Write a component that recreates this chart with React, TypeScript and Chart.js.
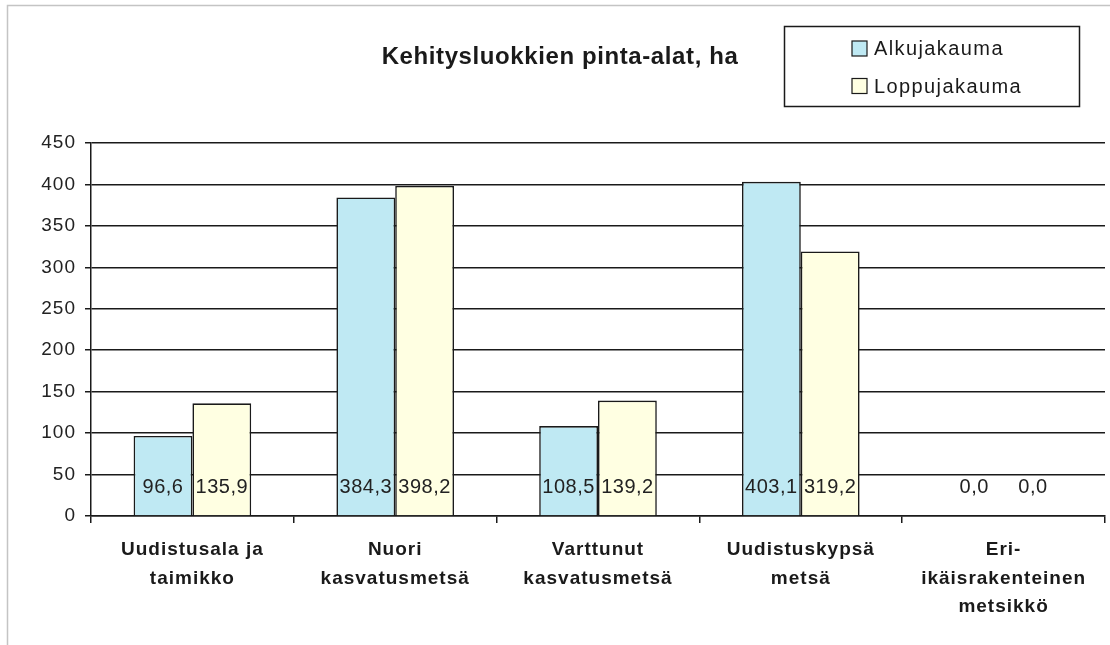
import React, { useEffect, useRef } from 'react';
import { Chart, registerables } from 'chart.js';

Chart.register(...registerables);

const categories: string[][] = [
  ['Uudistusala ja', 'taimikko'],
  ['Nuori', 'kasvatusmetsä'],
  ['Varttunut', 'kasvatusmetsä'],
  ['Uudistuskypsä', 'metsä'],
  ['Eri-', 'ikäisrakenteinen', 'metsikkö'],
];
const seriesNames = ['Alkujakauma', 'Loppujakauma'];
const alkujakauma = [96.6, 384.3, 108.5, 403.1, 0.0];
const loppujakauma = [135.9, 398.2, 139.2, 319.2, 0.0];
const yTicks = [0, 50, 100, 150, 200, 250, 300, 350, 400, 450];
const titleText = 'Kehitysluokkien pinta-alat, ha';

const FONT = '"Liberation Sans", Arial, sans-serif';
const INK = '#1a1a1a';
const BLUE = '#bfe9f3';
const YELLOW = '#ffffe2';

const setSpacing = (ctx: any, v: string) => {
  try { ctx.letterSpacing = v; } catch (e) { /* ignore */ }
};

const decorPlugin = {
  id: 'decor',
  beforeLayout(chart: any) {
    setSpacing(chart.ctx, '1px');
  },
  beforeDraw(chart: any) {
    const ctx = chart.ctx;
    ctx.save();
    ctx.fillStyle = '#fff';
    ctx.fillRect(0, 0, chart.width, chart.height);
    ctx.strokeStyle = '#c4c4c4';
    ctx.lineWidth = 1.5;
    ctx.beginPath();
    ctx.moveTo(7.5, chart.height + 2);
    ctx.lineTo(7.5, 5.5);
    ctx.lineTo(chart.width + 2, 5.5);
    ctx.stroke();
    ctx.restore();
    setSpacing(ctx, '1px');
  },
  afterDatasetsDraw(chart: any) {
    const ctx = chart.ctx;
    const yScale = chart.scales.y;
    const y0 = yScale.getPixelForValue(0);
    ctx.save();
    setSpacing(ctx, '0.5px');
    ctx.font = `20px ${FONT}`;
    ctx.fillStyle = '#222';
    ctx.textAlign = 'center';
    ctx.textBaseline = 'middle';
    chart.data.datasets.forEach((ds: any, di: number) => {
      const meta = chart.getDatasetMeta(di);
      meta.data.forEach((bar: any, i: number) => {
        const v = ds.data[i] as number;
        const txt = v.toFixed(1).replace('.', ',');
        ctx.fillText(txt, bar.x, y0 - 29);
      });
    });
    ctx.restore();
  },
  afterDraw(chart: any) {
    const ctx = chart.ctx;
    ctx.save();
    // title
    setSpacing(ctx, '0.6px');
    ctx.font = `bold 24px ${FONT}`;
    ctx.fillStyle = INK;
    ctx.textAlign = 'center';
    ctx.textBaseline = 'middle';
    ctx.fillText(titleText, 560, 57);
    // legend
    ctx.strokeStyle = INK;
    ctx.lineWidth = 1.5;
    ctx.strokeRect(784.5, 26.5, 295, 80);
    setSpacing(ctx, '1.4px');
    ctx.font = `20px ${FONT}`;
    ctx.textAlign = 'left';
    const rows = [48.5, 86];
    chart.data.datasets.forEach((ds: any, i: number) => {
      const cy = rows[i];
      ctx.fillStyle = ds.backgroundColor;
      ctx.fillRect(852, cy - 7.5, 15, 15);
      ctx.lineWidth = 1.2;
      ctx.strokeRect(852, cy - 7.5, 15, 15);
      ctx.fillStyle = INK;
      ctx.fillText(ds.label, 874, cy + 1);
    });
    ctx.restore();
  },
};

export default function App() {
  const ref = useRef<HTMLCanvasElement | null>(null);
  useEffect(() => {
    if (!ref.current) return;
    const chart = new Chart(ref.current, {
      type: 'bar',
      data: {
        labels: categories as any,
        datasets: [
          {
            label: seriesNames[0],
            data: alkujakauma,
            backgroundColor: BLUE,
            borderColor: INK,
            borderWidth: 1.6,
            categoryPercentage: 0.58,
            barPercentage: 1.0,
          },
          {
            label: seriesNames[1],
            data: loppujakauma,
            backgroundColor: YELLOW,
            borderColor: INK,
            borderWidth: 1.6,
            categoryPercentage: 0.58,
            barPercentage: 1.0,
          },
        ],
      },
      options: {
        responsive: false,
        animation: false,
        layout: { padding: { top: 143, left: 0, right: 5, bottom: 0 } },
        plugins: {
          legend: { display: false },
          title: { display: false },
          tooltip: { enabled: false },
        },
        scales: {
          x: {
            afterFit: (s: any) => { s.height = 129; },
            grid: {
              display: true,
              drawOnChartArea: false,
              drawTicks: true,
              tickLength: 7,
              color: INK,
              lineWidth: 1.5,
            },
            border: { display: true, color: INK, width: 1.5 },
            ticks: {
              autoSkip: false,
              maxRotation: 0,
              minRotation: 0,
              padding: 12,
              color: INK,
              font: { family: FONT, size: 19, weight: 'bold', lineHeight: 1.52 },
            },
          },
          y: {
            min: 0,
            max: 450,
            afterFit: (s: any) => { s.width = 91; },
            afterBuildTicks: (s: any) => { s.ticks = yTicks.map((v) => ({ value: v })); },
            grid: {
              color: INK,
              lineWidth: 1.5,
              tickLength: 6,
            },
            border: { display: true, color: INK, width: 1.5 },
            ticks: {
              padding: 9,
              color: '#222',
              font: { family: FONT, size: 19 },
            },
          },
        },
      },
      plugins: [decorPlugin],
    });
    return () => chart.destroy();
  }, []);
  return (
    <div style={{ position: 'absolute', left: 0, top: 0, width: 1110, height: 645 }}>
      <canvas ref={ref} width={1110} height={645} />
    </div>
  );
}
